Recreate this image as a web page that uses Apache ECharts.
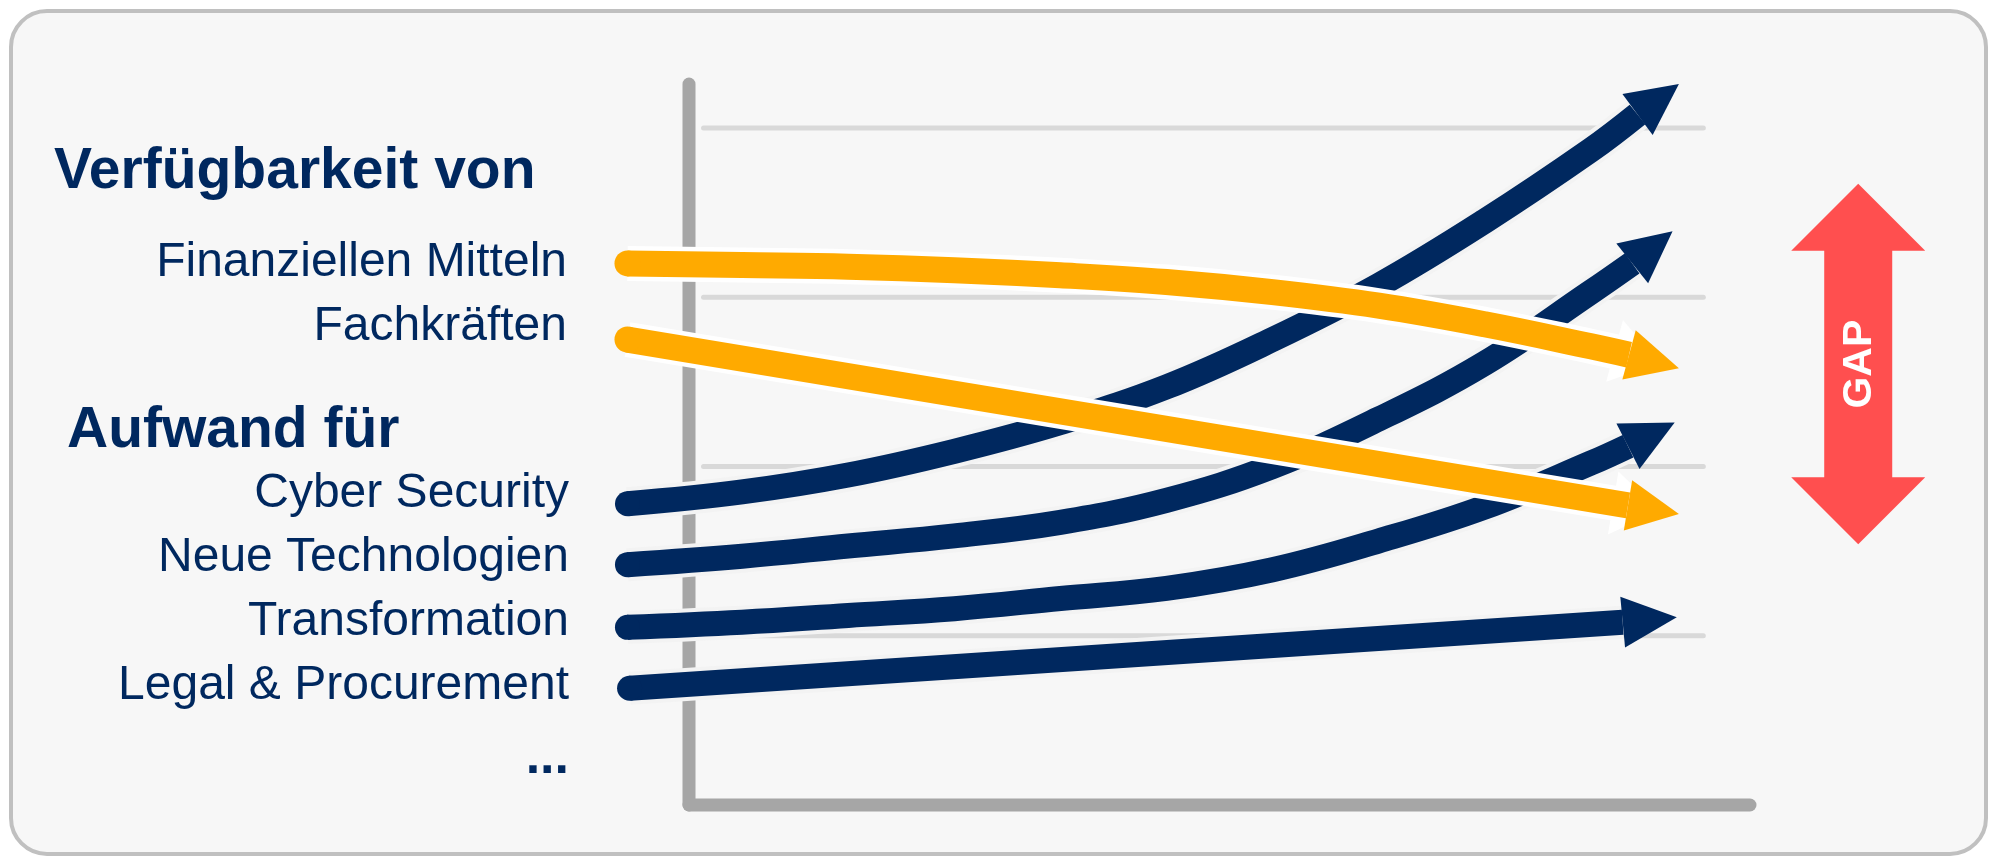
<!DOCTYPE html>
<html>
<head>
<meta charset="utf-8">
<script src="https://cdn.jsdelivr.net/npm/echarts@6/dist/echarts.min.js"></script>
<style>
html,body{margin:0;padding:0;background:#ffffff;}
#c{width:1995px;height:859px;}
</style>
</head>
<body>
<div id="c"></div>
<script>
// ---------- DATA ----------
const headingAvailability = 'Verfügbarkeit von';
const headingEffort = 'Aufwand für';
const availabilityLabels = ['Finanziellen Mitteln', 'Fachkräften'];
const effortLabels = ['Cyber Security', 'Neue Technologien', 'Transformation', 'Legal & Procurement'];
const moreLabel = '...';
const gapLabel = 'GAP';
const yTicks = [1, 2, 3, 4];

// each arrow: x values and y values; the last point is the arrow tip
const finanzX = [-5.8, 5, 15, 25, 35, 45, 55, 65, 75, 85, 88.6, 93.3];
const finanzY = [3.20, 3.19, 3.18, 3.16, 3.13, 3.09, 3.03, 2.95, 2.84, 2.71, 2.66, 2.58];
const fachX = [-5.8, 88.5, 93.3];
const fachY = [2.75, 1.77, 1.72];
const cyberX = [-5.8, 5, 15, 25, 35, 45, 55, 65, 75, 85, 89.4, 93.3];
const cyberY = [1.78, 1.85, 1.95, 2.09, 2.26, 2.47, 2.75, 3.07, 3.45, 3.87, 4.08, 4.26];
const techX = [-5.8, 5, 15, 25, 35, 45, 55, 65, 75, 85, 88.9, 92.7];
const techY = [1.42, 1.47, 1.53, 1.59, 1.67, 1.80, 2.00, 2.28, 2.61, 3.03, 3.20, 3.39];
const transX = [-5.8, 5, 15, 25, 35, 45, 55, 65, 75, 85, 88.5, 92.9];
const transY = [1.05, 1.08, 1.12, 1.16, 1.22, 1.28, 1.39, 1.56, 1.76, 2.02, 2.12, 2.26];
const legalX = [-5.6, 88.0, 93.1];
const legalY = [0.69, 1.08, 1.11];
const gapX = [110.2];
const gapLow = [1.54];
const gapHigh = [3.67];

// ---------- STYLE ----------
const NAVY = '#00285F';
const ORANGE = '#FFAA00';
const RED = '#FF4F4F';
const FONT = '"Liberation Sans", Arial, Helvetica, sans-serif';
const X_MIN = -10, X_MAX = 100, Y_MAX = 4.26;

function pts(xs, ys) { return xs.slice(0, -1).map((x, i) => [x, ys[i]]); }

function lineSeries(xs, ys, color, width, z) {
  return {
    type: 'line', data: pts(xs, ys), smooth: 0.4,
    symbol: 'none', clip: false, silent: true, z: z,
    lineStyle: { color: color, width: width, cap: 'butt', join: 'round' }
  };
}

// round start cap, drawn through the axes
function capSeries(xs, ys, color, r, z) {
  return {
    type: 'custom', coordinateSystem: 'cartesian2d', clip: false, silent: true, z: z,
    data: [[xs[0], ys[0]]],
    encode: { x: 0, y: 1 },
    renderItem: function (params, api) {
      const p = api.coord([api.value(0), api.value(1)]);
      return { type: 'circle', shape: { cx: p[0], cy: p[1], r: r }, style: { fill: color } };
    }
  };
}

function headSeries(xs, ys, color, o, z) {
  const n = xs.length;
  return {
    type: 'custom', coordinateSystem: 'cartesian2d', clip: false, silent: true, z: z,
    data: [[xs[n - 2], ys[n - 2], xs[n - 1], ys[n - 1]]],
    encode: { x: [0, 2], y: [1, 3] },
    renderItem: function (params, api) {
      const b = api.coord([api.value(0), api.value(1)]);
      const t = api.coord([api.value(2), api.value(3)]);
      const dx = t[0] - b[0], dy = t[1] - b[1];
      const L = Math.hypot(dx, dy);
      const ux = dx / L, uy = dy / L, nx = -uy, ny = ux;
      const bx = b[0] - ux * o.back, by = b[1] - uy * o.back;
      const tx = t[0] - ux * o.tipIn, ty = t[1] - uy * o.tipIn;
      return {
        type: 'polygon',
        shape: { points: [[bx + nx * o.hw, by + ny * o.hw], [tx, ty], [bx - nx * o.hw, by - ny * o.hw]] },
        style: { fill: color }
      };
    }
  };
}

const series = [];
// grid lines
yTicks.forEach(v => {
  series.push({
    type: 'line', data: [[1.37, v], [95.6, v]], symbol: 'none', silent: true, z: 1,
    lineStyle: { color: '#D9D9D9', width: 5, cap: 'round' }
  });
});
// axis lines
series.push({ type: 'line', data: [[0, 0], [0, Y_MAX]], symbol: 'none', silent: true, clip: false, z: 1,
  lineStyle: { color: '#A6A6A6', width: 13, cap: 'round' } });
series.push({ type: 'line', data: [[0, 0], [X_MAX, 0]], symbol: 'none', silent: true, clip: false, z: 1,
  lineStyle: { color: '#A6A6A6', width: 13, cap: 'round' } });

// navy arrows (effort)
const navyArrows = [[cyberX, cyberY], [techX, techY], [transX, transY], [legalX, legalY]];
navyArrows.forEach(([xs, ys]) => {
  series.push(lineSeries(xs, ys, '#F3F3F3', 33, 3));
  series.push(lineSeries(xs, ys, NAVY, 25, 4));
  series.push(capSeries(xs, ys, NAVY, 12.5, 5));
  series.push(headSeries(xs, ys, NAVY, { back: 0, hw: 25.5, tipIn: 0 }, 5));
});
// orange arrows (availability)
const orangeArrows = [[finanzX, finanzY], [fachX, fachY]];
orangeArrows.forEach(([xs, ys]) => {
  series.push(lineSeries(xs, ys, '#FFFFFF', 35, 6));
  series.push(headSeries(xs, ys, '#FFFFFF', { back: 15, hw: 32, tipIn: 20 }, 6));
  series.push(lineSeries(xs, ys, ORANGE, 26, 7));
  series.push(capSeries(xs, ys, ORANGE, 13, 8));
  series.push(headSeries(xs, ys, ORANGE, { back: 0, hw: 25.5, tipIn: 0 }, 8));
});

// GAP double arrow
series.push({
  type: 'custom', coordinateSystem: 'cartesian2d', clip: false, silent: true, z: 9,
  data: gapX.map((x, i) => [x, gapLow[i], gapHigh[i]]),
  encode: { x: 0, y: [1, 2] },
  renderItem: function (params, api) {
    const top = api.coord([api.value(0), api.value(2)]);
    const bot = api.coord([api.value(0), api.value(1)]);
    const cx = top[0], hh = 67, hw = 67, sw = 34;
    const p = [
      [cx, top[1]], [cx + hw, top[1] + hh], [cx + sw, top[1] + hh], [cx + sw, bot[1] - hh],
      [cx + hw, bot[1] - hh], [cx, bot[1]], [cx - hw, bot[1] - hh], [cx - sw, bot[1] - hh],
      [cx - sw, top[1] + hh], [cx - hw, top[1] + hh]
    ];
    return {
      type: 'group',
      children: [
        { type: 'polygon', shape: { points: p }, style: { fill: RED } },
        { type: 'text', x: cx + 1, y: (top[1] + bot[1]) / 2, rotation: Math.PI / 2,
          style: { text: gapLabel, fill: '#FFFFFF', font: 'bold 41px ' + FONT,
                   align: 'center', verticalAlign: 'middle', textAlign: 'center', textVerticalAlign: 'middle' } }
      ]
    };
  }
});

function txt(x, y, text, font, align) {
  return { type: 'text', x: x, y: y, z: 100,
    style: { text: text, font: font, fill: NAVY, align: align, verticalAlign: 'middle',
             textAlign: align, textVerticalAlign: 'middle' } };
}

const graphic = [
  { type: 'rect', z: -100, shape: { x: 11, y: 11, width: 1975, height: 843, r: 36 },
    style: { fill: '#F7F7F7', stroke: '#C0C0C0', lineWidth: 4 } },
  txt(54, 172, headingAvailability, 'bold 57px ' + FONT, 'left'),
  txt(567, 263, availabilityLabels[0], '48px ' + FONT, 'right'),
  txt(567, 327, availabilityLabels[1], '48px ' + FONT, 'right'),
  txt(67, 431, headingEffort, 'bold 57px ' + FONT, 'left'),
  txt(569, 494, effortLabels[0], '48px ' + FONT, 'right'),
  txt(569, 558, effortLabels[1], '48px ' + FONT, 'right'),
  txt(569, 622, effortLabels[2], '48px ' + FONT, 'right'),
  txt(569, 686, effortLabels[3], '48px ' + FONT, 'right'),
  txt(569, 759, moreLabel, 'bold 52px ' + FONT, 'right')
];

// x scale: 10.61 px per unit, 0 at the vertical axis (x = 689 px)
const chart = echarts.init(document.getElementById('c'), null, { renderer: 'canvas' });
chart.setOption({
  backgroundColor: '#FFFFFF',
  animation: false,
  grid: { left: 582.9, right: 245, top: 84, bottom: 54 },
  xAxis: { type: 'value', min: X_MIN, max: X_MAX, show: false },
  yAxis: { type: 'value', min: 0, max: Y_MAX, show: false },
  graphic: graphic,
  series: series
});
</script>
</body>
</html>
